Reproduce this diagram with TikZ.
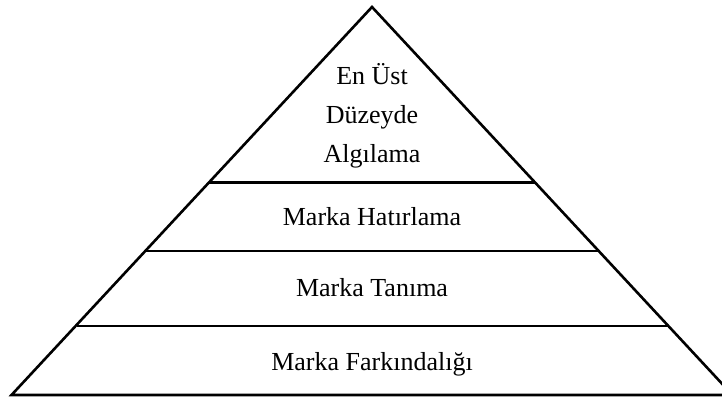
\documentclass[tikz,border=0pt]{standalone}
\usepackage{fontspec}
\setmainfont{Liberation Serif}
\begin{document}
\begin{tikzpicture}[x=1pt,y=-1pt,
  edge/.style={line width=2.6pt,black},
  lbl/.style={anchor=base,inner sep=0pt,font=\fontsize{26}{38}\selectfont}]
\useasboundingbox (0,0) rectangle (722,401);
\clip (0,0) rectangle (722,401);
\coordinate (apex) at (372,7);
\coordinate (bl) at (11.5,395);
\coordinate (br) at (732.5,395);
\draw[edge,line join=miter] (bl) -- (apex) -- (br) -- cycle;
% horizontal dividers: x = 372 -/+ (y-7)*0.9286
\draw[edge] (209,182.5) -- (535,182.5);
\draw[edge] (146,251) -- (598,251);
\draw[edge] (76.5,326) -- (667.5,326);
\node[lbl] (t1) at (372,85) {En Üst};
\node[lbl] (t2) at (372,123.5) {Düzeyde};
\node[lbl] (t3) at (372,162) {Algılama};
\node[lbl] (h) at (372,225) {Marka Hatırlama};
\node[lbl] (t) at (372,296) {Marka Tanıma};
\node[lbl] (f) at (372,370.5) {Marka Farkındalığı};
\end{tikzpicture}
\end{document}
